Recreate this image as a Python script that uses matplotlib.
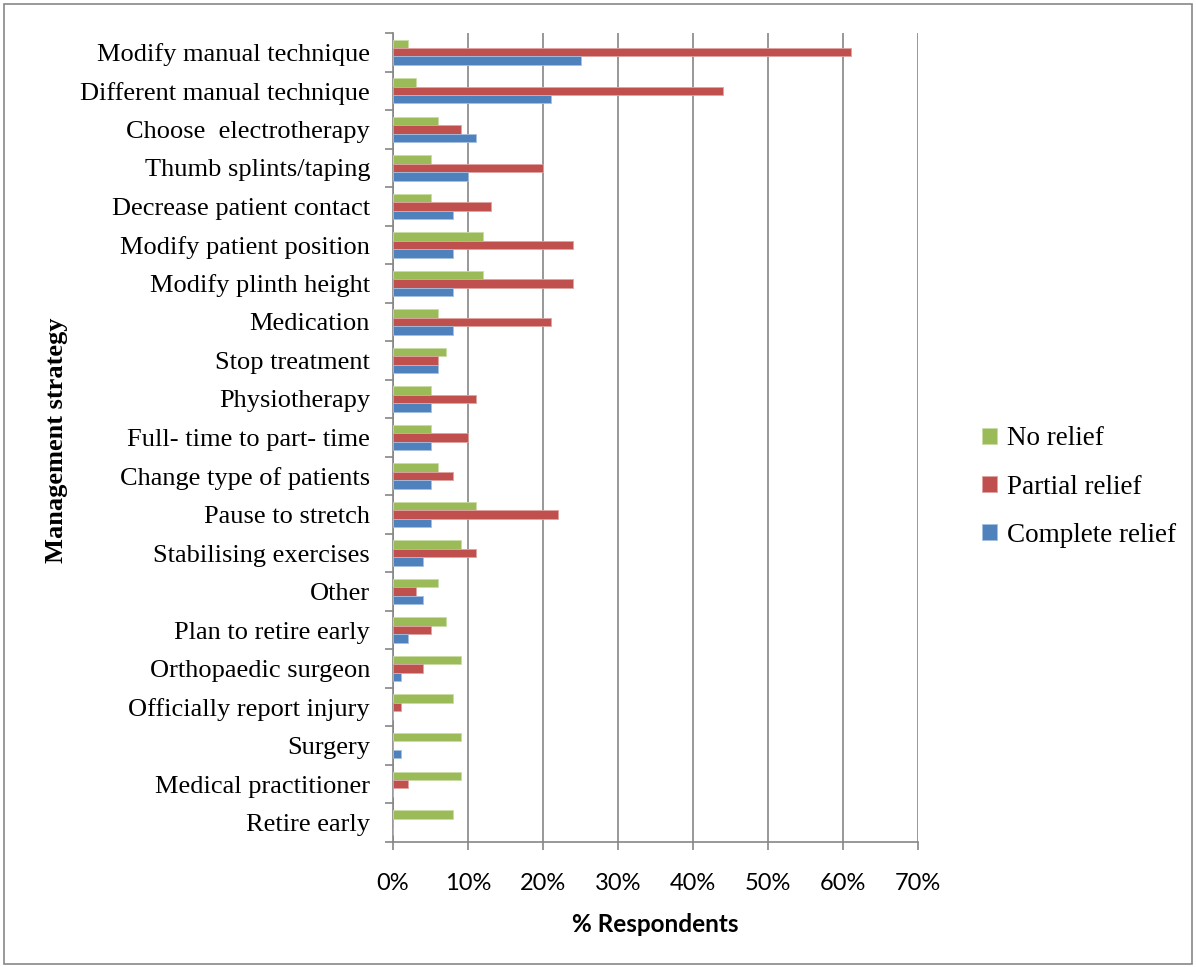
import numpy as np
import matplotlib
matplotlib.use("Agg")
from matplotlib import pyplot as plt
from matplotlib.patches import Rectangle

# Categories listed top to bottom as in the chart
strategies = [
    "Modify manual technique",
    "Different manual technique",
    "Choose  electrotherapy",
    "Thumb splints/taping",
    "Decrease patient contact",
    "Modify patient position",
    "Modify plinth height",
    "Medication",
    "Stop treatment",
    "Physiotherapy",
    "Full- time to part- time",
    "Change type of patients",
    "Pause to stretch",
    "Stabilising exercises",
    "Other",
    "Plan to retire early",
    "Orthopaedic surgeon",
    "Officially report injury",
    "Surgery",
    "Medical practitioner",
    "Retire early",
]

# % respondents
no_relief = [2, 3, 6, 5, 5, 12, 12, 6, 7, 5, 5, 6, 11, 9, 6, 7, 9, 8, 9, 9, 8]
partial_relief = [61, 44, 9, 20, 13, 24, 24, 21, 6, 11, 10, 8, 22, 11, 3, 5, 4, 1, 0, 2, 0]
complete_relief = [25, 21, 11, 10, 8, 8, 8, 8, 6, 5, 5, 5, 5, 4, 4, 2, 1, 0, 1, 0, 0]

series_names = ["No relief", "Partial relief", "Complete relief"]
colors = ["#9BBB59", "#C0504D", "#4F81BD"]
edges = ["#C9DDA6", "#DFA3A1", "#A5BFE0"]

serif = ["Liberation Serif", "DejaVu Serif"]
sans = ["Lato", "DejaVu Sans"]

fig = plt.figure(figsize=(11.96, 9.67), dpi=100)
ax = fig.add_axes([393 / 1196, 1 - 842 / 967, (918 - 393) / 1196, (842 - 33) / 967])

n = len(strategies)
# top category gets highest y
y = np.arange(n)[::-1].astype(float)
h = 0.22

ax.barh(y + h, no_relief, height=h, color=colors[0], edgecolor=edges[0],
        linewidth=0.6, zorder=3, label=series_names[0])
ax.barh(y, partial_relief, height=h, color=colors[1], edgecolor=edges[1],
        linewidth=0.6, zorder=3, label=series_names[1])
ax.barh(y - h, complete_relief, height=h, color=colors[2], edgecolor=edges[2],
        linewidth=0.6, zorder=3, label=series_names[2])

ax.set_xlim(0, 70)
ax.set_ylim(-0.5, n - 0.5)

grid_c = "#868686"
ax.set_xticks(np.arange(0, 71, 10))
ax.set_xticklabels([f"{v}%" for v in range(0, 71, 10)], fontfamily=sans, fontsize=17)
ax.xaxis.grid(True, color=grid_c, linewidth=1.2, zorder=0)
ax.tick_params(axis="x", direction="out", length=6, width=1.2, color=grid_c, pad=16)

ax.set_yticks(y)
ax.set_yticklabels(strategies, fontfamily=serif, fontsize=19)
ax.set_yticks(np.arange(n + 1) - 0.5, minor=True)
ax.tick_params(axis="y", which="major", length=0, pad=16.5)
ax.tick_params(axis="y", which="minor", direction="out", length=6, width=1.2, color=grid_c)

for side in ["top", "right"]:
    ax.spines[side].set_visible(False)
for side in ["left", "bottom"]:
    ax.spines[side].set_color(grid_c)
    ax.spines[side].set_linewidth(1.2)

ax.set_xlabel("% Respondents", fontfamily=sans, fontsize=17.5, fontweight="bold", labelpad=14)
fig.text(57 / 1196, 1 - 440 / 967, "Management strategy", rotation=90,
         ha="center", va="center", fontfamily=serif, fontsize=19, fontweight="bold")

leg = fig.legend(loc="center left", bbox_to_anchor=(958 / 1196, 1 - 487 / 967),
                 frameon=False, prop={"family": serif, "size": 19.5},
                 handlelength=0.55, handleheight=0.55, handletextpad=0.35,
                 labelspacing=0.85)

# outer chart border
fig.patches.append(Rectangle((4 / 1196, 3 / 967), 1188 / 1196, 960 / 967,
                             transform=fig.transFigure, fill=False,
                             edgecolor="#888888", linewidth=1.2))

fig.savefig("out.png", dpi=100)
